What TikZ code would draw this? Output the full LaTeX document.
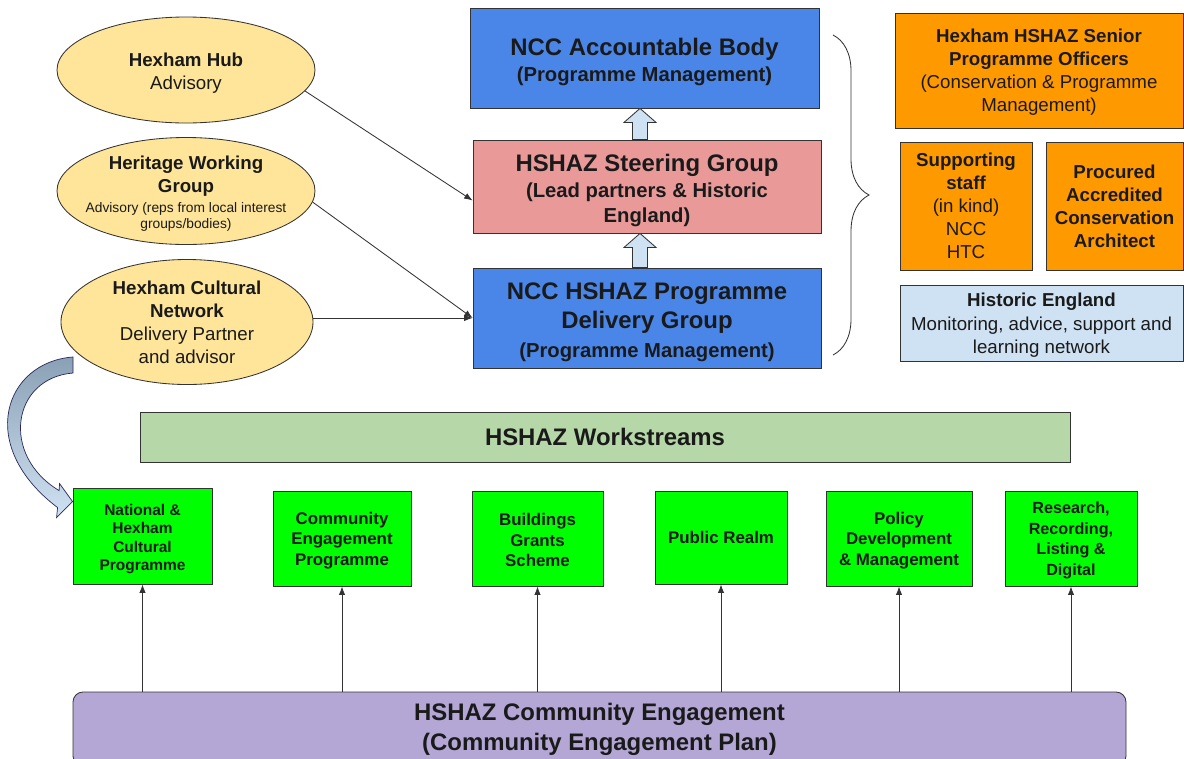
\documentclass[tikz,border=0pt]{standalone}
\usepackage{fontspec}
\setmainfont{Liberation Sans}
\usetikzlibrary{calc,shapes.geometric,arrows.meta,decorations.pathreplacing}
\definecolor{ovalyellow}{HTML}{FFE599}
\definecolor{nccblue}{HTML}{4A86E8}
\definecolor{steerpink}{HTML}{EA9999}
\definecolor{officerorange}{HTML}{FF9900}
\definecolor{paleblue}{HTML}{CFE2F3}
\definecolor{sagegreen}{HTML}{B6D7A8}
\definecolor{brightgreen}{HTML}{00FF00}
\definecolor{lilac}{HTML}{B4A7D6}
\definecolor{linegrey}{HTML}{333333}
\definecolor{textdark}{HTML}{1A1A1A}
\definecolor{curvetop}{HTML}{8AA0B4}
\newcommand\szB{\fontsize{14.4}{17}\selectfont}
\newcommand\szS{\fontsize{9.8}{11.5}\selectfont\mdseries}
\newcommand\dropstrut[1]{\rule{0pt}{#1}}
\def\blockup(#1)(#2){\draw[blockarrow] ($(#1)+(-7.5,0)$) -- ($(#2)+(-7.5,14)$) -- ($(#2)+(-16,14)$) -- (#2) -- ($(#2)+(16,14)$) -- ($(#2)+(7.5,14)$) -- ($(#1)+(7.5,0)$) -- cycle;}
\tikzset{
  px/.style 2 args={minimum width=#1*0.025cm,minimum height=#2*0.025cm},
  box/.style={draw=linegrey,line width=0.6pt,inner sep=0pt,align=center,text=textdark},
  oval/.style={box,ellipse,fill=ovalyellow,inner sep=-30pt,font=\fontsize{13.3}{16.4}\selectfont},
  bluebox/.style={box,fill=nccblue,font=\fontsize{17}{18.5}\selectfont\bfseries},
  pinkbox/.style={box,fill=steerpink,font=\fontsize{17}{17.8}\selectfont\bfseries},
  orangebox/.style={box,fill=officerorange,font=\fontsize{13.3}{16.4}\selectfont},
  palebox/.style={box,fill=paleblue,font=\fontsize{13.3}{16.6}\selectfont},
  sagebox/.style={box,fill=sagegreen,font=\fontsize{17}{20}\selectfont\bfseries},
  greenbox/.style={box,fill=brightgreen,font=\fontsize{12}{14.6}\selectfont\bfseries},
  lilacbox/.style={box,fill=lilac,rounded corners=0.25cm,font=\fontsize{17}{21.3}\selectfont\bfseries},
  conn/.style={draw=linegrey,line width=0.6pt,-{Latex[length=6pt,width=4.5pt]}},
  blockarrow/.style={draw=linegrey,line width=0.6pt,fill=paleblue},
  curvearrow/.style={draw=linegrey!80!blue,line width=0.5pt,top color=curvetop,bottom color=paleblue},
  bracestyle/.style={draw=linegrey,line width=0.6pt,decorate,decoration={brace,amplitude=0.9cm}}
}
\begin{document}
\begin{tikzpicture}[x=0.025cm,y=-0.025cm]
		%%%%% FRAME %%%%%
		\useasboundingbox (0,0) rectangle (1184,758);
		\clip (0,0) rectangle (1184,758);
		\fill[white] (0,0) rectangle (1184,758);
		
		%%%%% ADVISORY GROUPS %%%%%
		\node[oval, px={258}{106}] (hub) at (186,70) {\dropstrut{13.7pt}\bfseries Hexham Hub\\Advisory};
		\node[oval, px={258}{107}] (heritage) at (186,191) {\dropstrut{13.7pt}\bfseries Heritage Working\\\bfseries Group\\[-2.2pt]\szS Advisory (reps from local interest\\[-5pt]\szS groups/bodies)};
		\node[oval, px={252}{125}] (cultural) at (187,322) {\bfseries Hexham Cultural\\\bfseries Network\\Delivery Partner\\and advisor};
		
		%%%%% GOVERNANCE %%%%%
		\node[bluebox, px={349}{100}] (ncc) at (644.5,58) {\dropstrut{18pt}NCC Accountable Body\\\szB(Programme Management)};
		\node[pinkbox, px={348}{93}] (steer) at (647,186.5) {\dropstrut{18pt}HSHAZ Steering Group\\\szB(Lead partners \& Historic\\\szB England)};
		\node[bluebox, px={348}{100}, font=\fontsize{17}{20.6}\selectfont\bfseries] (deliv) at (647,318) {\dropstrut{18pt}NCC HSHAZ Programme\\Delivery Group\\\szB(Programme Management)};
		\coordinate (axis) at (640,0);
		\blockup(steer.north -| axis)(ncc.south -| axis)
		\blockup(deliv.north -| axis)(steer.south -| axis)
		
		\draw[conn] (hub.350) -- ($(steer.west)+(0,14)$);
		\draw[conn] (heritage.355) -- (deliv.west);
		\draw[conn] (cultural.east |- deliv.west) -- (deliv.west);
		
		\coordinate (brtop) at (833,35);
		\coordinate (brbot) at (833,355);
		\draw[bracestyle] (brtop) -- (brbot);
		
		%%%%% STAFF %%%%%
		\node[orangebox, px={288}{115}] (officers) at (1039,70.5) {\dropstrut{11.6pt}\bfseries Hexham HSHAZ Senior\\\bfseries Programme Officers\\(Conservation \& Programme\\Management)};
		\node[orangebox, px={132}{128}] (staff) at (966,206) {\bfseries Supporting\\\bfseries staff\\(in kind)\\NCC\\HTC};
		\node[orangebox, px={137}{128}, font=\fontsize{13.3}{16.4}\selectfont\bfseries] (procured) at (1114.5,206) {Procured\\Accredited\\Conservation\\Architect};
		\node[palebox, px={283}{76}] (histeng) at (1041.5,323) {\dropstrut{13.1pt}\bfseries Historic England\\Monitoring, advice, support and\\learning network};
		
		%%%%% WORKSTREAMS %%%%%
		\node[sagebox, px={930}{50}] (work) at (605,437) {HSHAZ Workstreams};
		
		\node[greenbox, px={139}{96}, font=\fontsize{11}{13}\selectfont\bfseries] (g1) at (142.5,536) {\dropstrut{12.1pt}National \&\\Hexham\\Cultural\\Programme};
		\node[greenbox, px={138}{95}] (g2) at (342,538.5) {\dropstrut{11.4pt}Community\\Engagement\\Programme};
		\node[greenbox, px={131}{95}] (g3) at (537.5,538.5) {\dropstrut{11.4pt}Buildings\\Grants\\Scheme};
		\node[greenbox, px={132}{93}] (g4) at (721,537.5) {Public Realm};
		\node[greenbox, px={146}{95}] (g5) at (899,538.5) {\dropstrut{11.4pt}Policy\\Development\\\& Management};
		\node[greenbox, px={132}{95}, font=\fontsize{11.5}{14.6}\selectfont\bfseries] (g6) at (1071,538.5) {\dropstrut{11pt}Research,\\Recording,\\Listing \&\\Digital};
		
		\node[lilacbox, px={1053}{74}] (engage) at (599.5,729) {HSHAZ Community Engagement\\(Community Engagement Plan)};
		
		\foreach \g in {g1,g2,g3,g4,g5,g6}
			\draw[conn] (engage.north -| \g.south) -- (\g.south);
		
		%%%%% CURVED ARROW %%%%%
		\coordinate (cvtip) at ($(g1.north west)+(0,14)$);
		\draw[curvearrow] (73,357) .. controls (5,362) and (-25,445) .. ($(cvtip)+(-15,6)$) -- ($(cvtip)+(-16,16)$) -- (cvtip) -- ($(cvtip)+(-13,-18)$) -- ($(cvtip)+(-13.5,-11)$) .. controls (0,455) and (12,378) .. (73,373) -- cycle;
	\end{tikzpicture}
\end{document}
